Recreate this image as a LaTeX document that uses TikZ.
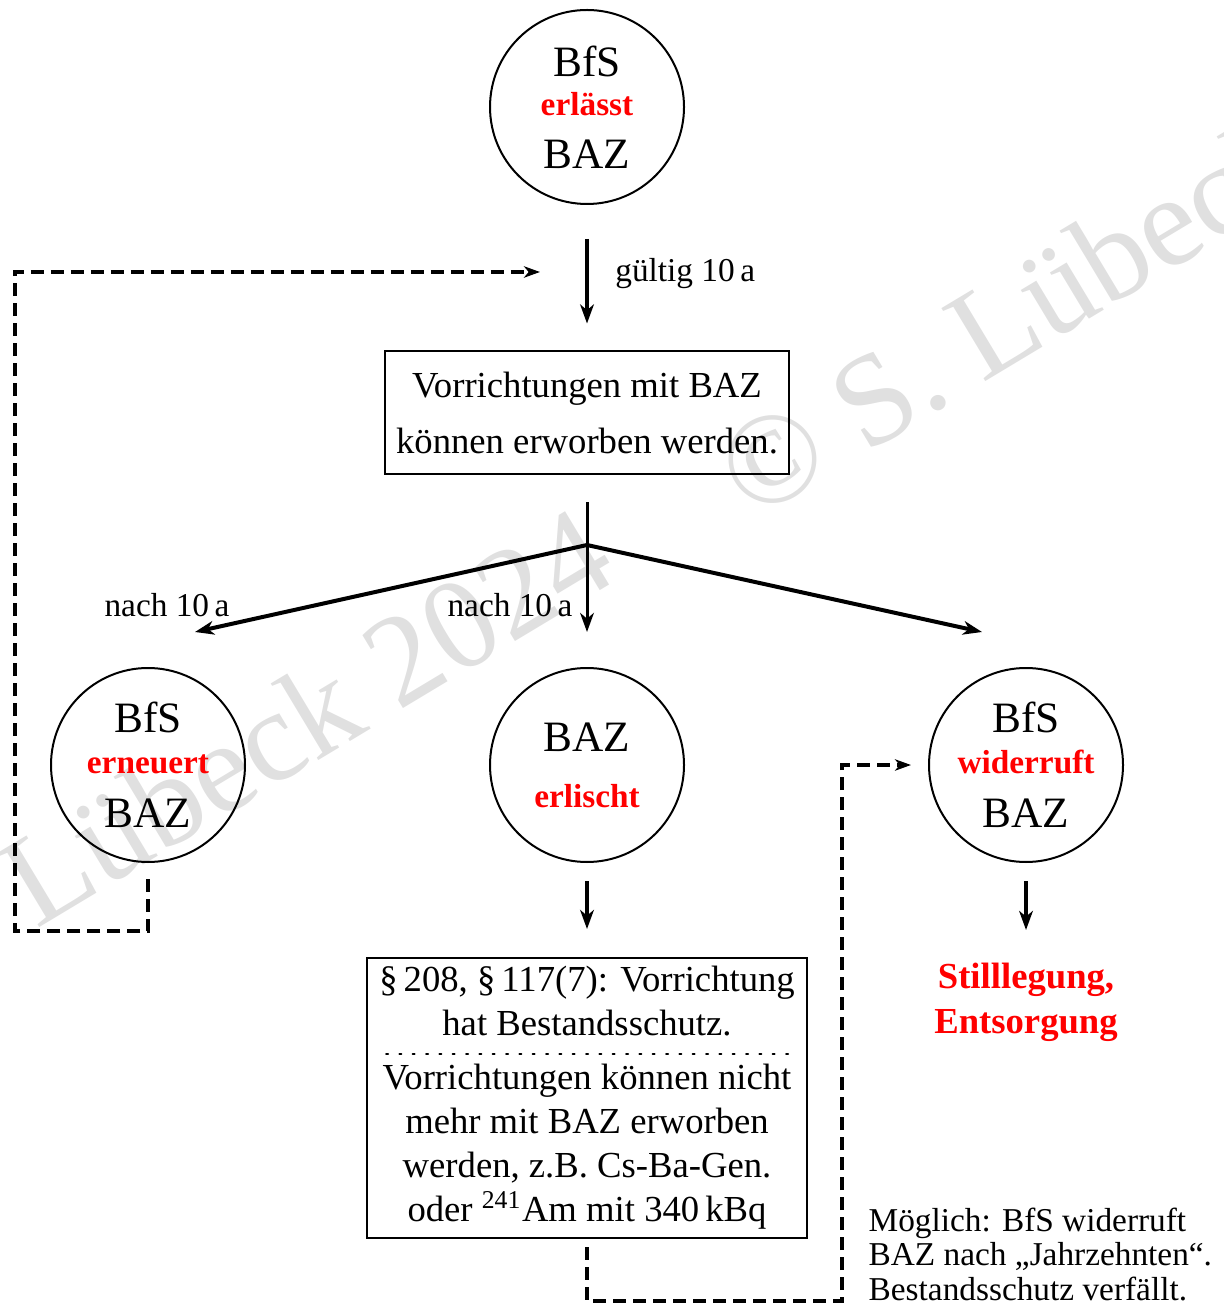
\documentclass[tikz,border=0pt]{standalone}
\usepackage{fontspec}
\setmainfont{Liberation Serif}
\usetikzlibrary{arrows.meta,positioning}
\newcommand\tatwort[1]{{\fontsize{10}{12}\selectfont\bfseries\color{red}#1}}

\begin{document}
\begin{tikzpicture}[x=.3pt,y=-.3pt,
  stat/.style={circle,draw,line width=.6pt,minimum size=58.2pt,inner sep=0pt,align=center,font=\fontsize{13}{12.3}\selectfont},
  kasten/.style={rectangle,draw,line width=.6pt,inner sep=0pt,align=center,font=\fontsize{11}{13.2}\selectfont},
  lbl/.style={font=\fontsize{10}{10.4}\selectfont,inner sep=0pt},
  pfeil/.style={-{Stealth[length=5.7pt,width=4.1pt,inset=1.7pt]},line width=1pt},
  ast/.style={-{Stealth[length=5.7pt,width=4.1pt,inset=1.7pt]},line width=1.2pt},
  rueck/.style={-{Stealth[length=4.8pt,width=3.4pt,inset=1.4pt]},line width=1.2pt,dash pattern=on 3.9pt off 2.1pt},
  wz/.style={text=black!12,font=\fontsize{39}{39}\selectfont,inner sep=0pt,rotate=31,anchor=base west}]
\useasboundingbox (0,0) rectangle (1223,1303);
\node[wz] (wz1) at (-194,1068) {© S. Lübeck 2024};
\node[wz] (wz2) at (752,522) {© S. Lübeck 2024};
\node[stat] (erl) at (587,107) {BfS\\[-.6pt]\tatwort{erlässt}\\[3.6pt]BAZ};
\node[kasten,minimum width=121.2pt,minimum height=36.9pt] (erw) at (587,413) {Vorrichtungen mit BAZ\\[3.6pt]können erworben werden.};
\node[stat] (ern) at (148,765) {BfS\\\tatwort{erneuert}\\[4pt]BAZ};
\node[stat] (erlo) at (587,765) {BAZ\\[4.5pt]\tatwort{erlischt}};
\node[stat] (wid) at (1026,765) {BfS\\\tatwort{widerruft}\\[4pt]BAZ};
\node[kasten,minimum width=132pt,minimum height=84pt] (best) at (587,1098) {\S\,208, \S\,117(7): Vorrichtung\\hat Bestandsschutz.\\[3pt]Vorrichtungen können nicht\\mehr mit BAZ erworben\\werden, z.B. Cs-Ba-Gen.\\oder \textsuperscript{241}Am mit 340\,kBq};
\draw[line width=.6pt,dash pattern=on .6pt off 3.4pt,line cap=round] ([xshift=6pt,yshift=13.2pt]best.west) -- ([xshift=-4.8pt,yshift=13.2pt]best.east);
\node[font=\fontsize{11}{13.5}\selectfont\bfseries,text=red,align=center] (still) at (1026,1002) {Stilllegung,\\Entsorgung};
\node[lbl,align=left,anchor=north west] (note) at (868,1207) {Möglich: BfS widerruft\\BAZ nach „Jahrzehnten“.\\Bestandsschutz verfällt.};
\draw[pfeil,shorten <=10.2pt,shorten >=8.1pt] (erl) -- node[lbl,pos=.47,right=8pt] (gue) {gültig 10\,a} (erw);
\coordinate (gabel) at (587,545);
\coordinate (zl) at (195,632);
\coordinate (zm) at (587,632);
\coordinate (zr) at (982,632);
\draw[line width=.9pt,shorten <=8.1pt] (erw) -- (gabel);
\draw[ast] (gabel) -- (zl);
\draw[ast] (gabel) -- (zr);
\draw[pfeil,line width=.9pt] (gabel) -- (zm);
\node[lbl] (nl) at (167,605) {nach 10\,a};
\node[lbl] (nm) at (510,605) {nach 10\,a};
\draw[pfeil,shorten <=5.4pt,shorten >=8.4pt] (erlo) -- (best);
\draw[pfeil,shorten <=5.4pt,shorten >=6.3pt] (wid) -- (still);
\coordinate (neu) at (540,272);
\draw[rueck,shorten <=4.8pt] (ern.south) -- ++(0,68) -- ++(-133,0) |- (neu);
\draw[rueck,shorten <=2.4pt,shorten >=5.1pt] (best.south) -- ++(0,62) -- ++(255,0) |- (wid.west);
\end{tikzpicture}
\end{document}
